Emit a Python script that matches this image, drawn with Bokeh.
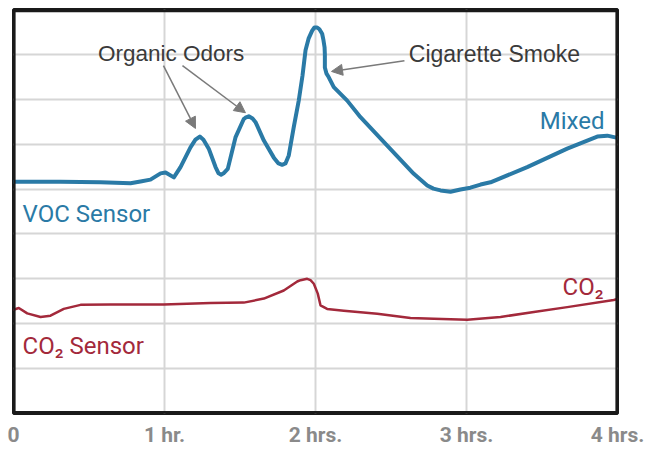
from bokeh.plotting import figure
from bokeh.models import FixedTicker, Arrow, NormalHead, Range1d, BoxAnnotation
from bokeh.core.properties import value
from bokeh.embed import file_html
from bokeh.resources import INLINE

# ---- data (hours vs. relative sensor signal) ----
hours = [0, 1, 2, 3, 4]
hour_labels = ["0", "1 hr.", "2 hrs.", "3 hrs.", "4 hrs."]

voc_t = [0.0, 0.311, 0.576, 0.775, 0.841, 0.907, 0.974, 1.007, 1.062, 1.106,
         1.172, 1.205, 1.234, 1.258, 1.293, 1.338, 1.358, 1.375, 1.391, 1.419,
         1.470, 1.525, 1.536, 1.558, 1.583, 1.603, 1.658, 1.724, 1.755, 1.779,
         1.801, 1.823, 1.856, 1.889, 1.914, 1.934, 1.954, 1.978, 1.993, 2.011,
         2.026, 2.044, 2.053, 2.060, 2.062, 2.062, 2.073, 2.088, 2.121, 2.210,
         2.298, 2.475, 2.651, 2.740, 2.781, 2.828, 2.894, 2.960, 3.026, 3.093,
         3.159, 3.402, 3.667, 3.866, 3.932, 4.0]
voc_v = [5.16, 5.16, 5.15, 5.13, 5.17, 5.21, 5.35, 5.37, 5.26, 5.49,
         5.93, 6.10, 6.17, 6.10, 5.90, 5.49, 5.35, 5.32, 5.35, 5.45,
         6.15, 6.56, 6.59, 6.62, 6.57, 6.49, 6.08, 5.70, 5.57, 5.54,
         5.57, 5.75, 6.38, 6.97, 7.53, 8.09, 8.35, 8.53, 8.60, 8.60,
         8.56, 8.46, 8.31, 8.16, 8.00, 7.71, 7.57, 7.49, 7.27, 6.97,
         6.60, 5.97, 5.34, 5.08, 5.01, 4.97, 4.94, 4.99, 5.03, 5.10,
         5.15, 5.49, 5.90, 6.17, 6.19, 6.14]

co2_t = [0.0, 0.035, 0.091, 0.179, 0.245, 0.333, 0.444, 0.642, 0.995, 1.305,
         1.525, 1.658, 1.790, 1.879, 1.901, 1.945, 1.967, 1.989, 2.015, 2.033,
         2.077, 2.187, 2.409, 2.629, 2.783, 3.005, 3.225, 3.446, 3.667, 3.975,
         4.0]
co2_v = [2.31, 2.35, 2.23, 2.15, 2.18, 2.33, 2.42, 2.43, 2.43, 2.46,
         2.47, 2.56, 2.74, 2.94, 2.97, 3.00, 2.97, 2.89, 2.67, 2.41,
         2.33, 2.29, 2.22, 2.13, 2.11, 2.09, 2.15, 2.26, 2.37, 2.53,
         2.55]

VOC_COLOR = "#2a7aa6"
CO2_COLOR = "#a3293b"
NOTE_COLOR = "#3a3a3a"
ARROW_COLOR = "#7a7a7a"
FRAME_COLOR = "#1a1a1a"
LABEL_FONT = value("Roboto")
SANS = value("Liberation Sans")

p = figure(width=650, height=449, x_range=Range1d(0, 4), y_range=Range1d(0, 9),
           output_backend="svg", toolbar_location=None,
           min_border_left=13, min_border_top=9, min_border_right=33, min_border_bottom=36)
p.background_fill_color = "white"
p.border_fill_color = "white"
p.outline_line_color = FRAME_COLOR
p.outline_line_alpha = 1.0
p.outline_line_width = 3

p.yaxis.visible = False
p.xaxis.ticker = FixedTicker(ticks=hours)
p.xaxis.major_label_overrides = {h: lab for h, lab in zip(hours, hour_labels)}
p.xaxis.axis_line_color = None
p.xaxis.major_tick_line_color = None
p.xaxis.minor_tick_line_color = None
p.xaxis.major_tick_out = 0
p.xaxis.major_tick_in = 0
p.xaxis.minor_tick_out = 0
p.xaxis.minor_tick_in = 0
p.xaxis.major_label_standoff = 9
p.xaxis.major_label_text_font = "Roboto"
p.xaxis.major_label_text_font_style = "bold"
p.xaxis.major_label_text_font_size = "21px"
p.xaxis.major_label_text_color = "#8a8a8a"

p.xgrid.ticker = FixedTicker(ticks=hours)
p.ygrid.ticker = FixedTicker(ticks=list(range(10)))
for g in (p.xgrid, p.ygrid):
    g.grid_line_color = "#d6d6d6"
    g.grid_line_width = 2

p.line(co2_t, co2_v, line_width=2.5, color=CO2_COLOR, line_join="round", line_cap="round")
p.line(voc_t, voc_v, line_width=4, color=VOC_COLOR, line_join="round", line_cap="round")

# frame border (kept just inside the frame so all four edges show fully)
p.add_layout(BoxAnnotation(left=0.004, right=3.996, bottom=0.02, top=8.97, fill_alpha=0,
                           line_color=FRAME_COLOR, line_width=3, line_alpha=1))

# arrows
for (x0, y0, x1, y1) in [(0.993, 7.75, 1.205, 6.35), (1.119, 7.75, 1.536, 6.70),
                         (2.589, 7.86, 2.106, 7.62)]:
    p.add_layout(Arrow(x_start=x0, y_start=y0, x_end=x1, y_end=y1,
                       line_color=ARROW_COLOR, line_width=1.5,
                       end=NormalHead(size=11, fill_color=ARROW_COLOR, line_color=ARROW_COLOR)))

# annotations
p.text(x=[0.560], y=[8.01], text=["Organic Odors"], text_font=SANS, text_font_size="22.5px",
       text_color=NOTE_COLOR, text_align="left", text_baseline="alphabetic")
p.text(x=[2.618], y=[8.01], text=["Cigarette Smoke"], text_font=SANS, text_font_size="23px",
       text_color=NOTE_COLOR, text_align="left", text_baseline="alphabetic")
p.text(x=[0.060], y=[4.45], text=["VOC Sensor"], text_font=LABEL_FONT, text_font_size="24px",
       text_color=VOC_COLOR, text_align="left", text_baseline="alphabetic")
p.text(x=[3.914], y=[6.52], text=["Mixed"], text_font=LABEL_FONT, text_font_size="24px",
       text_color=VOC_COLOR, text_align="right", text_baseline="alphabetic")
p.text(x=[0.060], y=[1.50], text=["CO\u2082 Sensor"], text_font=LABEL_FONT, text_font_size="24px",
       text_color=CO2_COLOR, text_align="left", text_baseline="alphabetic")
p.text(x=[3.907], y=[2.82], text=["CO\u2082"], text_font=LABEL_FONT, text_font_size="24px",
       text_color=CO2_COLOR, text_align="right", text_baseline="alphabetic")

open("out.html", "w").write(file_html(p, INLINE))
